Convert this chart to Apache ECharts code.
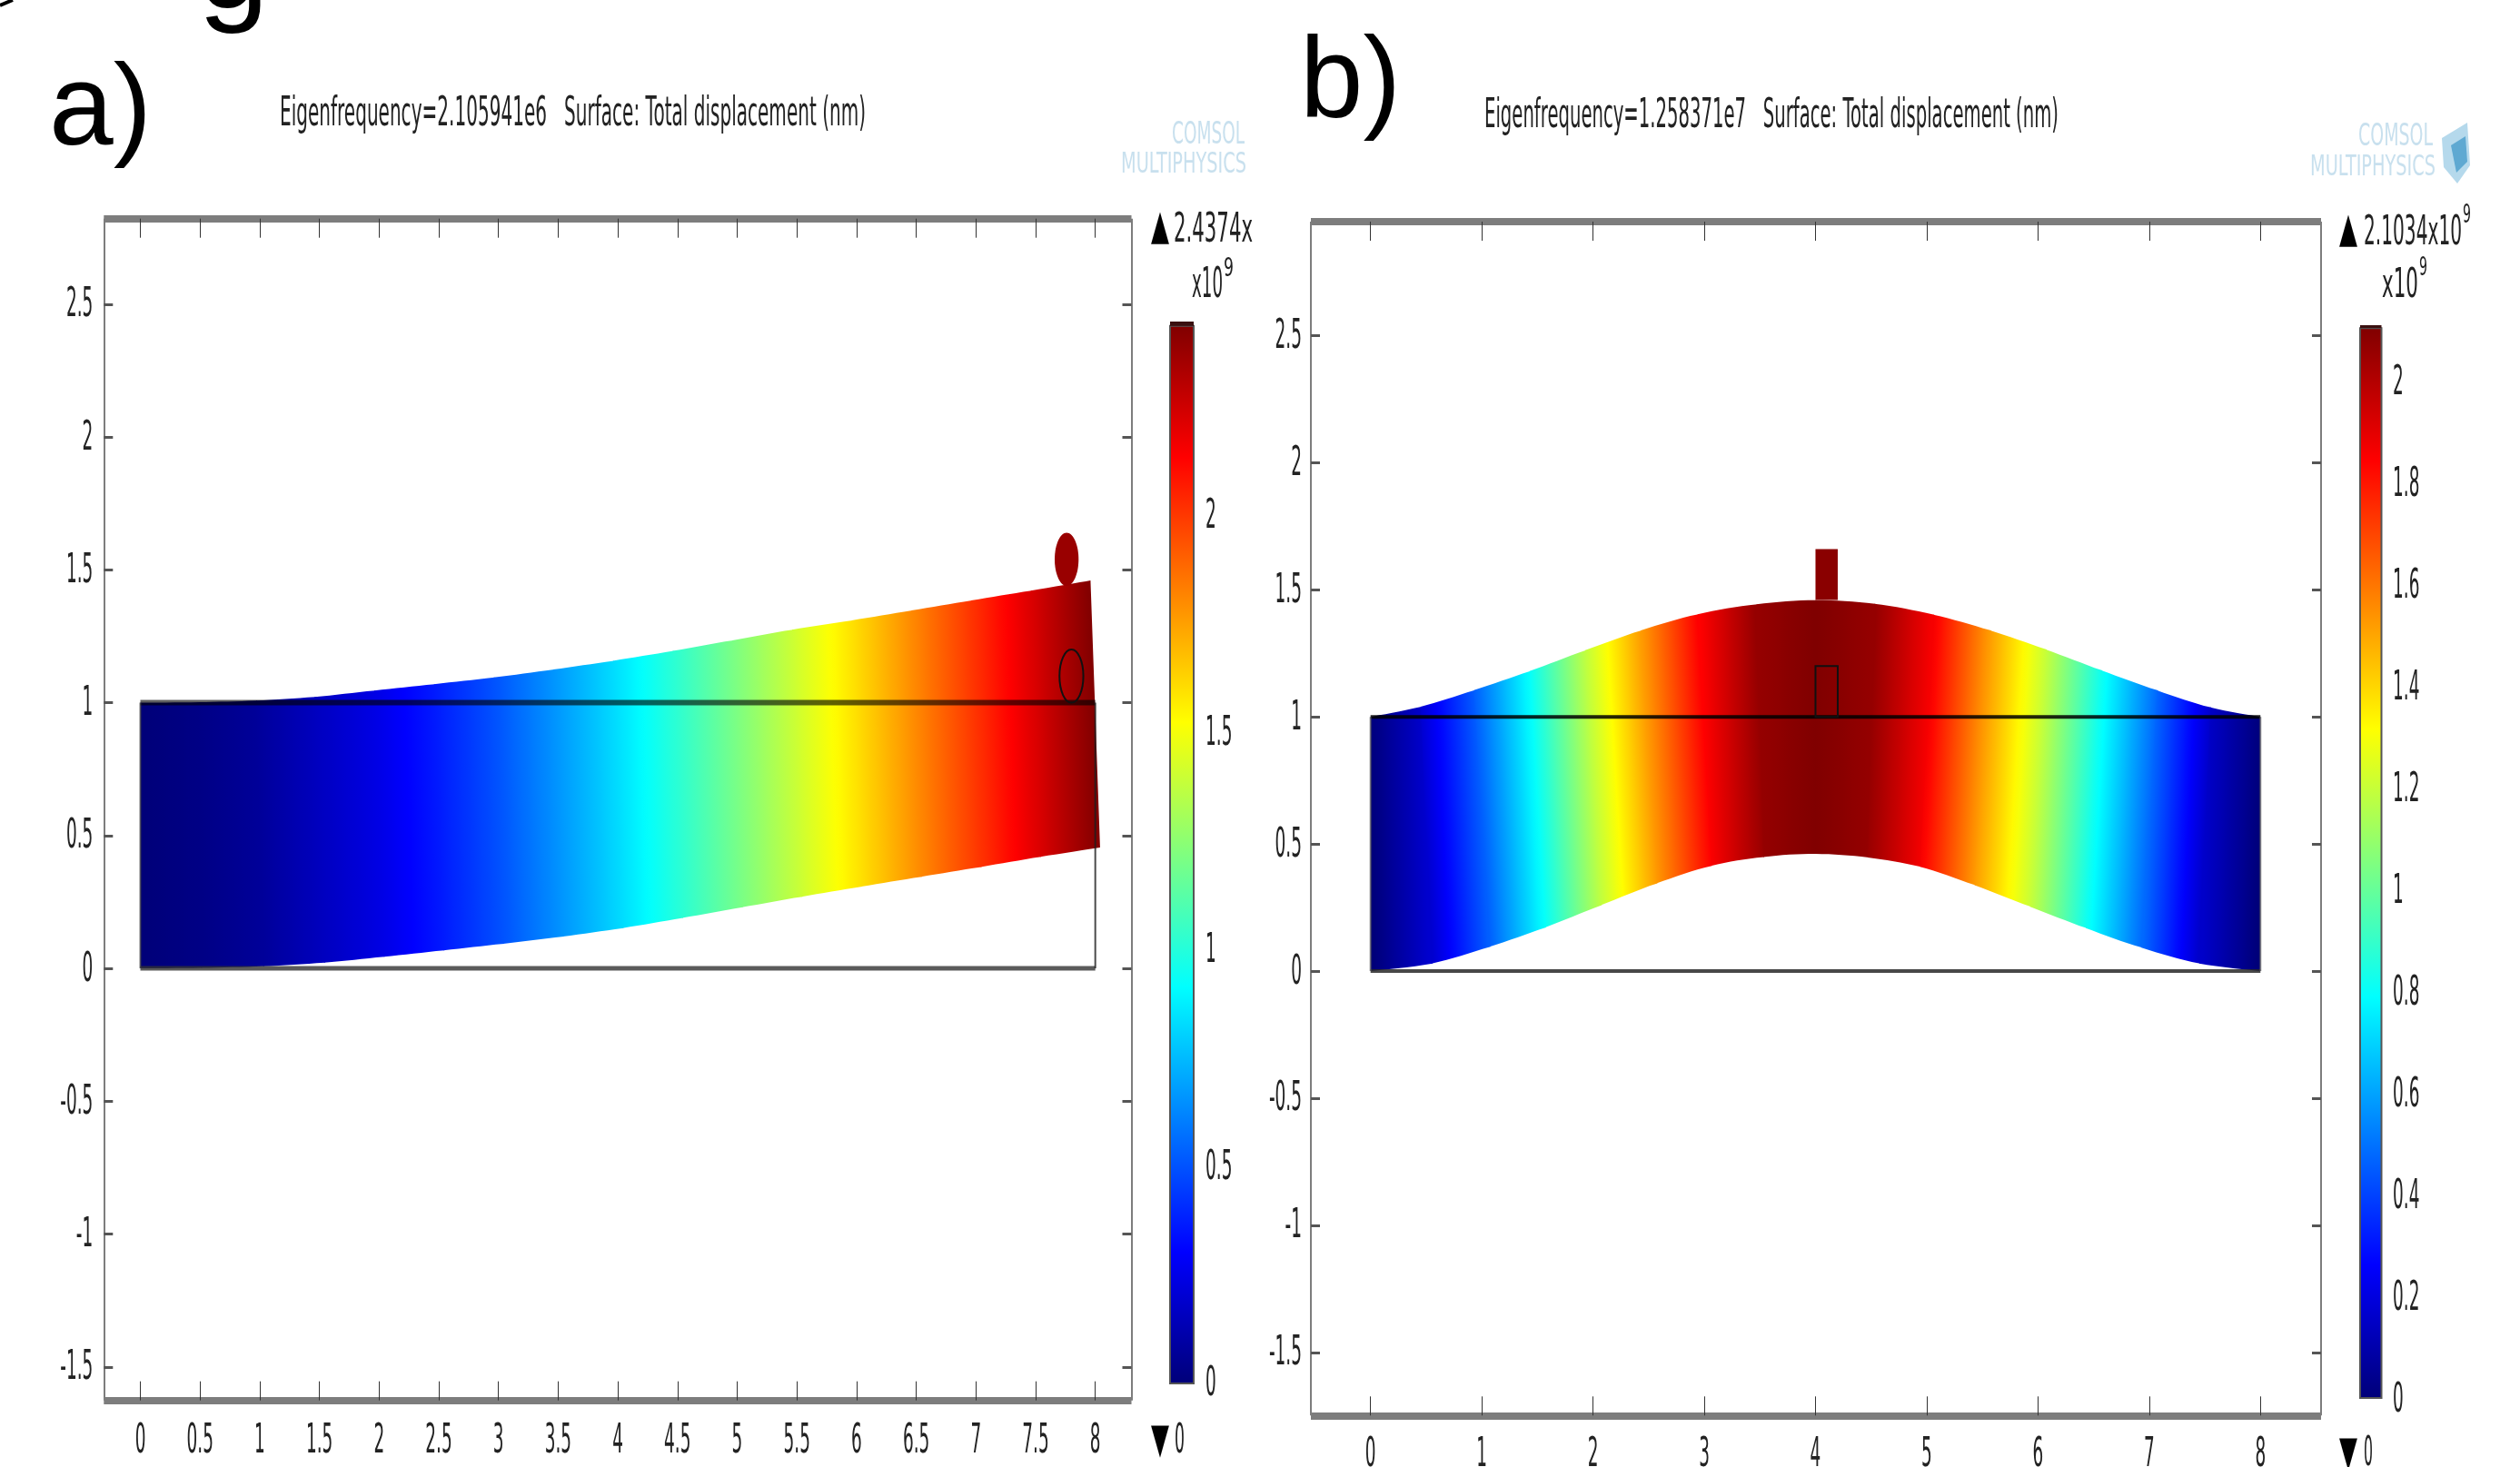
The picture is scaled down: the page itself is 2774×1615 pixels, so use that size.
<!DOCTYPE html>
<html><head><meta charset="utf-8">
<script src="https://cdn.jsdelivr.net/npm/echarts@6/dist/echarts.min.js"></script>
<style>html,body{margin:0;padding:0;background:#fff}#c{width:2774px;height:1615px}</style>
</head><body><div id="c"></div>
<script>
// ---------- panel a values ----------
const aXTicks=[0,0.5,1,1.5,2,2.5,3,3.5,4,4.5,5,5.5,6,6.5,7,7.5,8];
const aYTicks=[-1.5,-1,-0.5,0,0.5,1,1.5,2,2.5];
const aBarTicks=[0,0.5,1,1.5,2];
const aMax=2.4374;
const aTopX=[0,0.49,0.97,1.46,1.96,2.46,2.96,3.46,3.96,4.46,4.96,5.46,5.96,6.46,6.96,7.46,7.96];
const aBotX=[0,0.51,1.03,1.54,2.04,2.54,3.04,3.54,4.04,4.54,5.04,5.54,6.04,6.54,7.04,7.54,8.04];
const aTopY=[1,1.002,1.008,1.022,1.046,1.07,1.095,1.125,1.158,1.195,1.235,1.275,1.31,1.347,1.385,1.422,1.46];
const aBotY=[0,0.002,0.008,0.022,0.044,0.068,0.093,0.12,0.152,0.19,0.23,0.27,0.308,0.345,0.382,0.42,0.455];
const aDisp=[0,0.03,0.075,0.16,0.245,0.365,0.5,0.66,0.83,1.015,1.205,1.4,1.595,1.805,2.01,2.22,2.4374];
const aBall=[7.76,1.54,0.1];
const aRing=[7.8,1.1,0.1];
// ---------- panel b values ----------
const bXTicks=[0,1,2,3,4,5,6,7,8];
const bYTicks=[-1.5,-1,-0.5,0,0.5,1,1.5,2,2.5];
const bBarTicks=[0,0.2,0.4,0.6,0.8,1,1.2,1.4,1.6,1.8,2];
const bMax=2.1034;
const bTopX=[0,0.45,0.93,1.43,1.93,2.43,2.94,3.47,4,4.53,5.06,5.57,6.07,6.57,7.07,7.55,8];
const bBotX=[0,0.55,1.07,1.57,2.07,2.57,3.06,3.53,4,4.47,4.94,5.43,5.93,6.43,6.93,7.45,8];
const bTopY=[1,1.04,1.105,1.18,1.262,1.34,1.404,1.443,1.459,1.445,1.402,1.34,1.265,1.183,1.104,1.037,1];
const bBotY=[0,0.03,0.096,0.172,0.259,0.345,0.414,0.449,0.461,0.447,0.41,0.338,0.253,0.169,0.092,0.03,0];
const bDisp=[0,0.168,0.456,0.8,1.182,1.52,1.84,2.06,2.1034,2.06,1.86,1.52,1.2,0.82,0.48,0.16,0];
const bPost=[4,1.46,4.2,1.66];
const bFrame=[4,1,4.2,1.2];

const NUM='"DejaVu Sans"';
const ARIAL='"Liberation Sans"';
const INK='#222';
const measure=document.createElement('canvas').getContext('2d');
function fitScale(text,font,width){measure.font=font;return width/measure.measureText(text).width;}
function label(text,left,cy,width,size,family,fill){
  const font=size+'px '+family;
  return {type:'text',x:left,y:cy,scaleX:width?fitScale(text,font,width):1,silent:true,z:20,
    style:{text:text,font:font,fill:fill||INK,textAlign:'left',textVerticalAlign:'middle'}};
}
const JET=[[0,[0,0,120]],[0.125,[0,0,255]],[0.375,[0,255,255]],[0.625,[255,255,0]],[0.875,[255,0,0]],[1,[128,0,0]]];
function jet(f){
  f=Math.max(0,Math.min(1,f));
  for(let i=1;i<JET.length;i++){
    if(f<=JET[i][0]){
      const a=JET[i-1],b=JET[i],t=(f-a[0])/(b[0]-a[0]);
      const c=a[1].map((v,k)=>Math.round(v+(b[1][k]-v)*t));
      return 'rgb('+c.join(',')+')';
    }
  }
  return 'rgb(128,0,0)';
}
// Catmull-Rom curve between two stations, in pixels, so the beam edges are drawn smooth
function edgeCurve(api,xs,ys,i){
  const n=xs.length,P=k=>{const j=Math.max(0,Math.min(n-1,k));return api.coord([xs[j],ys[j]]);};
  const p0=P(i-1),p1=P(i),p2=P(i+1),p3=P(i+2),out=[];
  for(let s=0;s<=8;s++){
    const t=s/8,t2=t*t,t3=t2*t;
    out.push([0,1].map(k=>0.5*(2*p1[k]+(p2[k]-p0[k])*t+(2*p0[k]-5*p1[k]+4*p2[k]-p3[k])*t2+(3*p1[k]-p0[k]-3*p2[k]+p3[k])*t3)));
  }
  return out;
}
function beamSeries(ax,topX,topY,botX,botY,disp,max){
  return {type:'custom',xAxisIndex:ax,yAxisIndex:ax,clip:false,silent:true,z:2,
    encode:{x:[0,2],y:[1,3]},
    data:topX.slice(0,-1).map((_,i)=>[topX[i],topY[i],botX[i],botY[i],disp[i],disp[i+1]]),
    renderItem:function(p,api){
      const i=p.dataIndex;
      const top=edgeCurve(api,topX,topY,i),bot=edgeCurve(api,botX,botY,i);
      const t0=top[0],t1=top[8],b0=bot[0],b1=bot[8];
      const v0=api.value(4),v1=api.value(5);
      let dx=(t0[0]+t1[0]-b0[0]-b1[0]),dy=(t0[1]+t1[1]-b0[1]-b1[1]);
      const L=Math.hypot(dx,dy);dx/=L;dy/=L;
      let nx=-dy,ny=dx;
      const m0=[(t0[0]+b0[0])/2,(t0[1]+b0[1])/2],m1=[(t1[0]+b1[0])/2,(t1[1]+b1[1])/2];
      let len=(m1[0]-m0[0])*nx+(m1[1]-m0[1])*ny;
      if(len<0){nx=-nx;ny=-ny;len=-len;}
      const stops=[];
      for(let k=0;k<=10;k++){stops.push({offset:k/10,color:jet((v0+(v1-v0)*k/10)/max)});}
      const grad=new echarts.graphic.LinearGradient(m0[0],m0[1],m0[0]+nx*len,m0[1]+ny*len,stops,true);
      const lap=i<topX.length-2?1:0;
      const pts=top.slice();
      pts[8]=[t1[0]+lap,t1[1]];
      const rb=bot.slice().reverse();
      rb[0]=[b1[0]+lap,b1[1]];
      return {type:'polygon',shape:{points:pts.concat(rb)},style:{fill:grad,stroke:null}};
    }};
}
function pathLine(ax,pts,color,width){
  return {type:'line',xAxisIndex:ax,yAxisIndex:ax,data:pts,showSymbol:false,silent:true,z:4,
    lineStyle:{color:color,width:width,cap:'butt'},clip:false};
}
function ellipseSeries(ax,c,fill,stroke){
  return {type:'custom',xAxisIndex:ax,yAxisIndex:ax,clip:false,silent:true,z:5,data:[c],
    encode:{x:0,y:1},
    renderItem:function(p,api){
      const o=api.coord([api.value(0),api.value(1)]),s=api.size([api.value(2),api.value(2)]);
      return {type:'ellipse',shape:{cx:o[0],cy:o[1],rx:s[0],ry:s[1]},
        style:fill?{fill:fill}:{fill:'none',stroke:stroke,lineWidth:2}};
    }};
}
function rectSeries(ax,r,fill,stroke){
  return {type:'custom',xAxisIndex:ax,yAxisIndex:ax,clip:false,silent:true,z:5,data:[r],
    encode:{x:[0,2],y:[1,3]},
    renderItem:function(p,api){
      const a=api.coord([api.value(0),api.value(3)]),b=api.coord([api.value(2),api.value(1)]);
      return {type:'rect',shape:{x:a[0],y:a[1],width:b[0]-a[0],height:b[1]-a[1]},
        style:fill?{fill:fill}:{fill:'none',stroke:stroke,lineWidth:2}};
    }};
}
function tickText(ax,values,place){
  return {type:'custom',xAxisIndex:ax,yAxisIndex:ax,clip:false,silent:true,z:6,
    data:values.map(v=>[v]),encode:{x:place.kind==='x'?0:-1,y:place.kind==='x'?-1:0},
    renderItem:function(p,api){
      const v=api.value(0);
      const o=place.kind==='x'?api.coord([v,place.at]):api.coord([place.at,v]);
      return {type:'text',x:o[0]+place.dx,y:o[1]+place.dy,scaleX:0.42,
        style:{text:String(v),font:'44px '+NUM,fill:INK,textAlign:place.align,textVerticalAlign:'middle'}};
    }};
}
function barSeries(ax,max,axisTop){
  return {type:'custom',xAxisIndex:ax,yAxisIndex:ax,clip:false,silent:true,z:2,data:[[0,0,1,max,axisTop]],
    encode:{x:[0,2],y:[1,3]},
    renderItem:function(p,api){
      const a=api.coord([0,api.value(3)]),b=api.coord([1,0]),c=api.coord([0,api.value(4)]);
      const stops=JET.map(j=>({offset:j[0],color:jet(j[0])}));
      return {type:'group',children:[
        {type:'rect',shape:{x:a[0],y:a[1],width:b[0]-a[0],height:b[1]-a[1]},
         style:{fill:new echarts.graphic.LinearGradient(0,1,0,0,stops),stroke:'#555',lineWidth:2}},
        {type:'rect',shape:{x:c[0],y:c[1],width:b[0]-c[0],height:a[1]-c[1]},style:{fill:'#3a1010'}}
      ]};
    }};
}
const GREY='#7d7d7d';
function plotAxes(xr,yr,xt,yt,g){
  const xa=(pos)=>({type:'value',gridIndex:g,min:xr[0],max:xr[1],position:pos,
    axisLine:{show:true,onZero:false,lineStyle:{color:GREY,width:8,cap:'butt'}},
    axisTick:{show:true,inside:true,length:21,customValues:xt,lineStyle:{color:'#333',width:1}},
    axisLabel:{show:false},splitLine:{show:false}});
  const ya=(pos)=>({type:'value',gridIndex:g,min:yr[0],max:yr[1],position:pos,
    axisLine:{show:true,onZero:false,lineStyle:{color:GREY,width:2,cap:'butt'}},
    axisTick:{show:true,inside:true,length:10,customValues:yt,lineStyle:{color:'#555',width:3}},
    axisLabel:{show:false},splitLine:{show:false}});
  return {x:[xa('bottom'),xa('top')],y:[ya('left'),ya('right')]};
}
function barAxes(top,t,g){
  const ya=(pos)=>({type:'value',gridIndex:g,min:0,max:top,position:pos,
    axisLine:{show:false},axisTick:{show:true,inside:true,length:5,customValues:t,lineStyle:{color:'#222',width:2}},
    axisLabel:{show:false},splitLine:{show:false}});
  const xa={type:'value',gridIndex:g,min:0,max:1,show:false};
  return {x:[xa],y:[ya('left'),ya('right')]};
}
const aXR=[-0.306,8.303],aYR=[-1.626,2.822],bXR=[-0.5365,8.545],bYR=[-1.748,2.948];
const aBarTop=2.4475,bBarTop=2.109;
const A=plotAxes(aXR,aYR,aXTicks,aYTicks,0),B=plotAxes(bXR,bYR,bXTicks,bYTicks,1);
const AB=barAxes(aBarTop,aBarTicks,2),BB=barAxes(bBarTop,bBarTicks,3);
const xAxes=[A.x[0],B.x[0],AB.x[0],BB.x[0],A.x[1],B.x[1]];
const yAxes=[A.y[0],B.y[0],AB.y[0],BB.y[0],A.y[1],B.y[1],AB.y[1],BB.y[1]];

const series=[
  beamSeries(0,aTopX,aTopY,aBotX,aBotY,aDisp,aMax),
  ellipseSeries(0,aBall,'#990000'),
  pathLine(0,[[0,1],[8,1]],'rgba(0,0,0,0.62)',6),
  pathLine(0,[[0,0],[8,0]],'rgba(50,50,50,0.8)',5),
  pathLine(0,[[0,0],[0,1]],'rgba(60,60,60,0.7)',2),
  pathLine(0,[[8,0],[8,1]],'rgba(30,30,30,0.8)',2),
  ellipseSeries(0,aRing,null,'#111'),
  tickText(0,aXTicks,{kind:'x',at:aYR[0],dx:0,dy:46,align:'center'}),
  tickText(0,aYTicks,{kind:'y',at:aXR[0],dx:-12,dy:2,align:'right'}),
  beamSeries(1,bTopX,bTopY,bBotX,bBotY,bDisp,bMax),
  rectSeries(1,bPost,'#8a0000'),
  pathLine(1,[[0,1],[8,1]],'rgba(0,0,0,0.85)',4),
  pathLine(1,[[0,0],[8,0]],'rgba(40,40,40,0.85)',4),
  pathLine(1,[[0,0],[0,1]],'rgba(90,90,90,0.7)',2),
  pathLine(1,[[8,0],[8,1]],'rgba(90,90,90,0.7)',2),
  rectSeries(1,bFrame,null,'#111'),
  tickText(1,bXTicks,{kind:'x',at:bYR[0],dx:0,dy:44,align:'center'}),
  tickText(1,bYTicks,{kind:'y',at:bXR[0],dx:-10,dy:2,align:'right'}),
  barSeries(2,aMax,aBarTop),
  tickText(2,aBarTicks,{kind:'y',at:1,dx:13,dy:2,align:'left'}),
  barSeries(3,bMax,bBarTop),
  tickText(3,bBarTicks,{kind:'y',at:1,dx:12.5,dy:4,align:'left'})
];
const graphics=[
  {type:'text',silent:true,style:{text:'g',x:218,y:39,font:'140px '+ARIAL,fill:'#000',textAlign:'left',textVerticalAlign:'bottom'}},
  label('a)',54,124,113,126,ARIAL,'#000'),
  label('b)',1431,94,111,126,ARIAL,'#000'),
  label('Eigenfrequency=2.105941e6   Surface: Total displacement (nm)',308,127,645,44,NUM),
  label('Eigenfrequency=1.258371e7   Surface: Total displacement (nm)',1634,129,632,44,NUM),
  label('COMSOL',1290,149,80,34,NUM,'#c8e0ee'),
  label('MULTIPHYSICS',1234,182,138,32,NUM,'#c8e0ee'),
  label('COMSOL',2596,151,82,34,NUM,'#c8e0ee'),
  label('MULTIPHYSICS',2543,185,138,32,NUM,'#c8e0ee'),
  {type:'polygon',silent:true,shape:{points:[[2688,152],[2716,135],[2719,182],[2705,202],[2690,184]]},style:{fill:'#b5d9ec'}},
  {type:'polygon',silent:true,shape:{points:[[2698,160],[2714,150],[2716,178],[2704,190]]},style:{fill:'#5fa9d2'}},
  label('\u25B2',1267,251,20,46,NUM,'#000'),
  label('2.4374x',1292,255,87,44,NUM),
  label('x10',1312,315,34,46,NUM),
  label('9',1347,297,11,28,NUM),
  label('\u25BC',1267,1587,20,46,NUM,'#000'),
  label('0',1293,1588,11,44,NUM),
  label('\u25B2',2575,254,20,46,NUM,'#000'),
  label('2.1034x10',2602,258,108,44,NUM),
  label('9',2711,238,9,28,NUM),
  label('x10',2622,316,40,44,NUM),
  label('9',2663,296,9,28,NUM),
  label('\u25BC',2575,1601,20,46,NUM,'#000'),
  label('0',2602,1602,10,44,NUM),
  {type:'polyline',silent:true,shape:{points:[[0,6],[14,0]]},style:{stroke:'#000',lineWidth:4,fill:'none'}}
];
const chart=echarts.init(document.getElementById('c'),null,{renderer:'canvas',width:2774,height:1615});
chart.setOption({
  animation:false,backgroundColor:'#fff',tooltip:{show:false},legend:{show:false},
  grid:[
    {left:114.3,top:240.7,width:1131.2,height:1301},
    {left:1443,top:244,width:1112,height:1314.3},
    {left:1288,top:354,width:26,height:1169},
    {left:2598,top:358,width:23.5,height:1181}
  ],
  xAxis:xAxes,yAxis:yAxes,series:series,graphic:{elements:graphics}
});
</script></body></html>
